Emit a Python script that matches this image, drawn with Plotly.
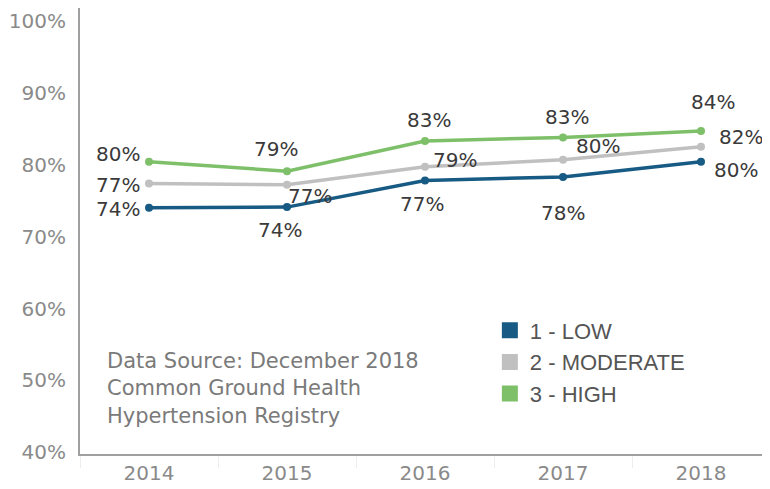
import plotly.graph_objects as go

years = ["2014", "2015", "2016", "2017", "2018"]
low = [73.6, 73.7, 77.4, 77.9, 80.0]
moderate = [77.0, 76.8, 79.3, 80.3, 82.1]
high = [80.0, 78.7, 82.9, 83.4, 84.3]
series_names = ["1 - LOW", "2 - MODERATE", "3 - HIGH"]
y_ticks = [40, 50, 60, 70, 80, 90, 100]

colors = ["#175a83", "#c0c0c0", "#7ec069"]
# label offsets in px (dx, dy with dy positive downward)
offsets = [
    [(-31, 1), (-7, 23), (-3, 23), (0, 36), (35, 8)],
    [(-31, 2), (23, 11), (30, -7), (35, -14), (40, -10)],
    [(-31, -8), (-11, -22), (4, -21), (4, -20), (12, -29)],
]

FONT = "DejaVu Sans, Verdana, sans-serif"

fig = go.Figure()
all_series = [low, moderate, high]
for name, vals, col in zip(series_names, all_series, colors):
    fig.add_trace(go.Scatter(
        x=years, y=vals, mode="lines+markers",
        line=dict(color=col, width=3.5),
        marker=dict(color=col, size=8),
        showlegend=False, hoverinfo="skip",
    ))
    fig.add_trace(go.Scatter(
        x=[None], y=[None], mode="markers", name=name,
        marker=dict(symbol="square", size=22, color=col),
    ))

for vals, offs in zip(all_series, offsets):
    for i, (yv, (dx, dy)) in enumerate(zip(vals, offs)):
        fig.add_annotation(
            x=i, y=yv, text=f"{round(yv)}%", showarrow=False,
            xshift=dx, yshift=-dy,
            font=dict(family=FONT, size=20, color="#3a3a3a"),
        )

fig.add_annotation(
    xref="paper", yref="paper", x=0.036, y=0.24, xanchor="left", yanchor="top",
    align="left", showarrow=False,
    text="Data Source: December 2018<br>Common Ground Health<br>Hypertension Registry",
    font=dict(family=FONT, size=21, color="#7a7a7a"),
)

# page body adds an 8px offset; figure is sized to fit the 770x489 window
fig.update_layout(
    width=762, height=481,
    margin=dict(l=72, r=0, t=0, b=35, autoexpand=False),
    plot_bgcolor="white", paper_bgcolor="white",
    legend=dict(
        x=0.594, y=0.324, xanchor="left", yanchor="top",
        font=dict(family="Liberation Sans Narrow, Arial Narrow, sans-serif", size=22, color="#555555"),
        bgcolor="rgba(0,0,0,0)", itemsizing="trace", tracegroupgap=0,
    ),
)
fig.update_xaxes(
    type="category", range=[-0.5, 4.5], showgrid=False, zeroline=False,
    showline=True, linecolor="#a0a0a0", linewidth=2, automargin=False,
    ticks="outside", tickson="boundaries", ticklen=12, tickcolor="#eeeeee",
    tickfont=dict(family=FONT, size=20, color="#8a8a8a"),
)
fig.update_yaxes(
    range=[39.35, 101.4], tickvals=y_ticks, ticktext=[f"{v}%" for v in y_ticks],
    showgrid=False, zeroline=False, showline=True, linecolor="#a0a0a0", linewidth=2,
    ticks="", ticklabelstandoff=8, ticklabelshift=3, ticklabeloverflow="allow",
    automargin=False,
    tickfont=dict(family=FONT, size=20, color="#8a8a8a"),
)

fig.write_html("out.html")
